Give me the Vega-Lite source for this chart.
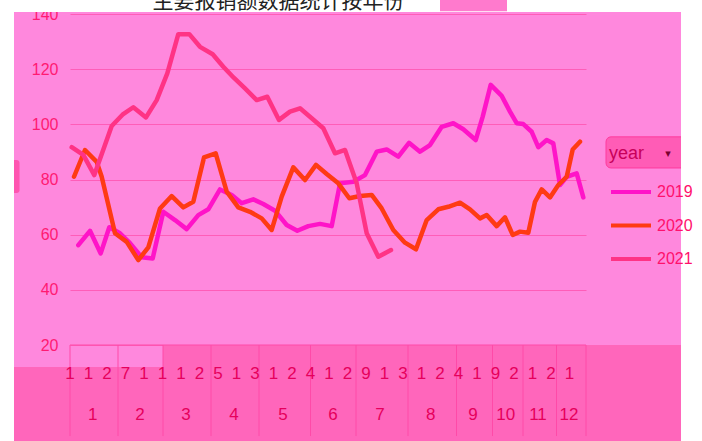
{
  "$schema": "https://vega.github.io/schema/vega-lite/v6.json",
  "width": 516,
  "height": 331,
  "autosize": "none",
  "padding": {"left": 70, "top": 14, "right": 116, "bottom": 96},
  "background": "#FF88DD",
  "config": {
    "view": {"stroke": null},
    "axisY": {"domain": false, "ticks": false, "tickSize": 0, "labelPadding": 12, "labelFont": "Liberation Sans", "labelFontSize": 16, "labelColor": "#FF1A72", "gridColor": "#FF5DB8", "gridWidth": 1, "grid": true, "title": null, "labelBound": false, "labelOverlap": false}
  },
  "datasets": {
    "series": [
      {"year":"2019","t":0.83,"v":56.2},{"year":"2019","t":2.0,"v":61.4},{"year":"2019","t":3.07,"v":53.2},{"year":"2019","t":3.93,"v":62.7},{"year":"2019","t":5.0,"v":60.5},{"year":"2019","t":6.0,"v":56.9},{"year":"2019","t":7.17,"v":51.8},{"year":"2019","t":8.27,"v":51.4},{"year":"2019","t":9.33,"v":68.3},{"year":"2019","t":10.5,"v":65.3},{"year":"2019","t":11.67,"v":62.0},{"year":"2019","t":12.83,"v":67.1},{"year":"2019","t":13.83,"v":69.2},{"year":"2019","t":15.0,"v":76.4},{"year":"2019","t":16.17,"v":74.4},{"year":"2019","t":17.17,"v":71.4},{"year":"2019","t":18.33,"v":72.8},{"year":"2019","t":19.33,"v":71.1},{"year":"2019","t":20.5,"v":68.7},{"year":"2019","t":21.67,"v":63.5},{"year":"2019","t":22.73,"v":61.4},{"year":"2019","t":23.83,"v":63.1},{"year":"2019","t":25.0,"v":63.9},{"year":"2019","t":26.17,"v":63.1},{"year":"2019","t":27.0,"v":78.6},{"year":"2019","t":28.33,"v":79.2},{"year":"2019","t":29.5,"v":81.6},{"year":"2019","t":30.67,"v":90.1},{"year":"2019","t":31.67,"v":90.9},{"year":"2019","t":32.83,"v":88.3},{"year":"2019","t":33.9,"v":93.3},{"year":"2019","t":35.0,"v":90.1},{"year":"2019","t":36.0,"v":92.5},{"year":"2019","t":37.17,"v":99.1},{"year":"2019","t":38.33,"v":100.4},{"year":"2019","t":39.33,"v":98.2},{"year":"2019","t":40.57,"v":94.3},{"year":"2019","t":41.27,"v":102.8},{"year":"2019","t":42.07,"v":114.3},{"year":"2019","t":43.17,"v":110.3},{"year":"2019","t":44.0,"v":104.6},{"year":"2019","t":44.67,"v":100.4},{"year":"2019","t":45.33,"v":100.1},{"year":"2019","t":46.17,"v":97.3},{"year":"2019","t":46.83,"v":91.7},{"year":"2019","t":47.67,"v":94.3},{"year":"2019","t":48.33,"v":93.1},{"year":"2019","t":49.0,"v":78.0},{"year":"2019","t":49.67,"v":81.0},{"year":"2019","t":50.67,"v":82.2},{"year":"2019","t":51.33,"v":73.5},
      {"year":"2020","t":0.4,"v":81.0},{"year":"2020","t":1.5,"v":90.7},{"year":"2020","t":2.67,"v":86.4},{"year":"2020","t":3.17,"v":81.0},{"year":"2020","t":4.5,"v":60.5},{"year":"2020","t":5.67,"v":57.4},{"year":"2020","t":6.83,"v":50.8},{"year":"2020","t":7.83,"v":55.4},{"year":"2020","t":9.0,"v":69.5},{"year":"2020","t":10.17,"v":74.0},{"year":"2020","t":11.33,"v":69.9},{"year":"2020","t":12.33,"v":71.9},{"year":"2020","t":13.4,"v":88.0},{"year":"2020","t":14.57,"v":89.5},{"year":"2020","t":15.67,"v":75.6},{"year":"2020","t":16.83,"v":69.9},{"year":"2020","t":18.0,"v":68.3},{"year":"2020","t":19.17,"v":65.9},{"year":"2020","t":20.17,"v":61.7},{"year":"2020","t":21.17,"v":73.8},{"year":"2020","t":22.33,"v":84.4},{"year":"2020","t":23.5,"v":79.8},{"year":"2020","t":24.6,"v":85.3},{"year":"2020","t":25.67,"v":82.0},{"year":"2020","t":26.83,"v":78.6},{"year":"2020","t":27.93,"v":73.2},{"year":"2020","t":29.0,"v":74.0},{"year":"2020","t":30.17,"v":74.4},{"year":"2020","t":31.17,"v":69.5},{"year":"2020","t":32.33,"v":61.7},{"year":"2020","t":33.5,"v":57.1},{"year":"2020","t":34.6,"v":54.7},{"year":"2020","t":35.67,"v":65.3},{"year":"2020","t":36.83,"v":69.2},{"year":"2020","t":37.83,"v":70.1},{"year":"2020","t":39.0,"v":71.6},{"year":"2020","t":40.0,"v":69.2},{"year":"2020","t":41.0,"v":65.9},{"year":"2020","t":41.67,"v":67.1},{"year":"2020","t":42.67,"v":63.1},{"year":"2020","t":43.5,"v":66.3},{"year":"2020","t":44.27,"v":59.9},{"year":"2020","t":45.0,"v":61.1},{"year":"2020","t":45.83,"v":60.7},{"year":"2020","t":46.5,"v":71.9},{"year":"2020","t":47.17,"v":76.4},{"year":"2020","t":48.0,"v":73.5},{"year":"2020","t":48.83,"v":78.0},{"year":"2020","t":49.67,"v":81.0},{"year":"2020","t":50.27,"v":90.9},{"year":"2020","t":51.0,"v":93.7},
      {"year":"2021","t":0.17,"v":91.7},{"year":"2021","t":1.33,"v":88.9},{"year":"2021","t":2.43,"v":81.6},{"year":"2021","t":4.17,"v":99.4},{"year":"2021","t":5.25,"v":103.5},{"year":"2021","t":6.33,"v":106.2},{"year":"2021","t":7.6,"v":102.5},{"year":"2021","t":8.67,"v":108.8},{"year":"2021","t":9.73,"v":118.5},{"year":"2021","t":10.83,"v":132.7},{"year":"2021","t":11.93,"v":132.7},{"year":"2021","t":13.0,"v":128.1},{"year":"2021","t":14.27,"v":125.4},{"year":"2021","t":15.33,"v":120.9},{"year":"2021","t":16.4,"v":116.8},{"year":"2021","t":17.5,"v":113.0},{"year":"2021","t":18.67,"v":108.8},{"year":"2021","t":19.73,"v":110.0},{"year":"2021","t":20.9,"v":101.6},{"year":"2021","t":22.0,"v":104.6},{"year":"2021","t":23.0,"v":105.8},{"year":"2021","t":24.17,"v":102.2},{"year":"2021","t":25.33,"v":98.6},{"year":"2021","t":26.5,"v":89.5},{"year":"2021","t":27.5,"v":90.7},{"year":"2021","t":28.67,"v":78.6},{"year":"2021","t":29.67,"v":60.5},{"year":"2021","t":30.83,"v":52.0},{"year":"2021","t":32.1,"v":54.4}
    ],
    "months": [
      {"month":"1","mid":2.27},{"month":"2","mid":7.0},{"month":"3","mid":11.6},{"month":"4","mid":16.4},{"month":"5","mid":21.3},{"month":"6","mid":26.3},{"month":"7","mid":31.0},{"month":"8","mid":36.07},{"month":"9","mid":40.3},{"month":"10","mid":43.57},{"month":"11","mid":46.8},{"month":"12","mid":49.9}
    ],
    "bounds": [
      {"t":0},{"t":4.8},{"t":9.3},{"t":14.1},{"t":18.9},{"t":24.05},{"t":28.6},{"t":33.8},{"t":38.65},{"t":42.25},{"t":45.3},{"t":48.65},{"t":51.6}
    ],
    "sub": [
      {"t":0,"label":"1"},{"t":1.85,"label":"1"},{"t":3.7,"label":"2"},{"t":5.55,"label":"7"},{"t":7.4,"label":"1"},{"t":9.25,"label":"1"},{"t":11.1,"label":"1"},{"t":12.95,"label":"2"},{"t":14.8,"label":"5"},{"t":16.65,"label":"1"},{"t":18.5,"label":"3"},{"t":20.35,"label":"1"},{"t":22.2,"label":"2"},{"t":24.05,"label":"4"},{"t":25.9,"label":"1"},{"t":27.75,"label":"2"},{"t":29.6,"label":"9"},{"t":31.45,"label":"1"},{"t":33.3,"label":"3"},{"t":35.15,"label":"1"},{"t":37.0,"label":"2"},{"t":38.85,"label":"4"},{"t":40.7,"label":"1"},{"t":42.55,"label":"9"},{"t":44.4,"label":"2"},{"t":46.25,"label":"1"},{"t":48.1,"label":"2"},{"t":49.95,"label":"1"}
    ]
  },
  "layer": [
    {
      "data": {"values": [{}]},
      "mark": {"type": "rect", "fill": "#FF66BB"},
      "encoding": {
        "x": {"datum": 9.3, "type": "quantitative", "scale": {"domain": [0, 51.6], "nice": false, "zero": false}, "axis": null},
        "x2": {"datum": 61.1},
        "y": {"datum": 20, "type": "quantitative", "scale": {"domain": [20, 140], "nice": false, "zero": false}},
        "y2": {"datum": -16}
      }
    },
    {
      "data": {"values": [{}]},
      "mark": {"type": "rect", "fill": "#FF66BB"},
      "encoding": {
        "x": {"datum": -5.6, "type": "quantitative", "axis": null},
        "x2": {"datum": 61.1},
        "y": {"datum": 12.0, "type": "quantitative"},
        "y2": {"datum": -16}
      }
    },
    {
      "data": {"values": [{}]},
      "mark": {"type": "rule", "stroke": "#FF4AA8", "strokeWidth": 1},
      "encoding": {
        "x": {"datum": 0, "type": "quantitative", "axis": null},
        "x2": {"datum": 51.6},
        "y": {"datum": 20, "type": "quantitative"}
      }
    },
    {
      "data": {"name": "bounds"},
      "mark": {"type": "rule", "stroke": "#FF4AA8", "strokeWidth": 1},
      "encoding": {
        "x": {"field": "t", "type": "quantitative", "axis": null},
        "y": {"datum": 20, "type": "quantitative"},
        "y2": {"datum": -13}
      }
    },
    {
      "data": {"name": "sub"},
      "mark": {"type": "text", "font": "Liberation Sans", "fontSize": 17, "fill": "#E6005C", "align": "center", "baseline": "middle"},
      "encoding": {
        "x": {"field": "t", "type": "quantitative", "axis": null},
        "y": {"datum": 9.5, "type": "quantitative"},
        "text": {"field": "label"}
      }
    },
    {
      "data": {"name": "months"},
      "mark": {"type": "text", "font": "Liberation Sans", "fontSize": 17, "fill": "#E6005C", "align": "center", "baseline": "middle"},
      "encoding": {
        "x": {"field": "mid", "type": "quantitative", "axis": null},
        "y": {"datum": -5.4, "type": "quantitative"},
        "text": {"field": "month"}
      }
    },
    {
      "data": {"values": [{}]},
      "mark": {"type": "rect", "fill": "#FF5CB6", "stroke": "#FF3A9E", "strokeWidth": 1, "cornerRadius": 5},
      "encoding": {
        "x": {"datum": 53.6, "type": "quantitative", "axis": null},
        "x2": {"datum": 62.5},
        "y": {"datum": 95.46, "type": "quantitative"},
        "y2": {"datum": 84.17}
      }
    },
    {
      "data": {"values": [{}]},
      "mark": {"type": "text", "text": "▾", "font": "DejaVu Sans", "fontSize": 11, "fill": "#7A0030", "align": "center", "baseline": "middle"},
      "encoding": {
        "x": {"datum": 59.8, "type": "quantitative", "axis": null},
        "y": {"datum": 89.3, "type": "quantitative"}
      }
    },
    {
      "data": {"values": [{}]},
      "mark": {"type": "rect", "fill": "#FF55B0", "cornerRadiusTopRight": 5, "cornerRadiusBottomRight": 5},
      "encoding": {
        "x": {"datum": -5.6, "type": "quantitative", "axis": null},
        "x2": {"datum": -5.05},
        "y": {"datum": 87.07, "type": "quantitative"},
        "y2": {"datum": 75.1}
      }
    },
    {
      "data": {"values": [{}]},
      "mark": {"type": "rect", "fill": "white"},
      "encoding": {
        "x": {"datum": -7.2, "type": "quantitative", "axis": null},
        "x2": {"datum": 63.4},
        "y": {"datum": 145.8, "type": "quantitative"},
        "y2": {"datum": 140.73}
      }
    },
    {
      "data": {"values": [{}]},
      "mark": {"type": "rect", "fill": "white"},
      "encoding": {
        "x": {"datum": -7.2, "type": "quantitative", "axis": null},
        "x2": {"datum": -5.6},
        "y": {"datum": 145.8, "type": "quantitative"},
        "y2": {"datum": -16}
      }
    },
    {
      "data": {"values": [{}]},
      "mark": {"type": "rect", "fill": "white"},
      "encoding": {
        "x": {"datum": 61.1, "type": "quantitative", "axis": null},
        "x2": {"datum": 63.4},
        "y": {"datum": 145.8, "type": "quantitative"},
        "y2": {"datum": -16}
      }
    },
    {
      "data": {"values": [{}]},
      "mark": {"type": "rect", "fill": "#FF7ACD"},
      "encoding": {
        "x": {"datum": 37.0, "type": "quantitative", "axis": null},
        "x2": {"datum": 43.7},
        "y": {"datum": 145.8, "type": "quantitative"},
        "y2": {"datum": 141.0}
      }
    },
    {
      "data": {"values": [{}]},
      "mark": {"type": "text", "text": "主要报销额数据统计按年份", "font": "Noto Sans CJK SC", "fontSize": 21, "fill": "#222222", "align": "center", "baseline": "alphabetic"},
      "encoding": {
        "x": {"datum": 20.85, "type": "quantitative", "axis": null},
        "y": {"datum": 142.0, "type": "quantitative"}
      }
    },
    {
      "data": {"name": "series"},
      "mark": {"type": "line", "strokeWidth": 4.5, "strokeJoin": "round", "strokeCap": "round"},
      "encoding": {
        "x": {"field": "t", "type": "quantitative", "axis": null},
        "y": {"field": "v", "type": "quantitative", "axis": {"values": [20, 40, 60, 80, 100, 120, 140]}},
        "color": {
          "field": "year", "type": "nominal",
          "scale": {"domain": ["2019", "2020", "2021"], "range": ["#FF14C8", "#FF3A14", "#FF3385"]},
          "legend": {
            "orient": "none", "legendX": 539, "legendY": 131, "padding": 0,
            "title": "year", "titleFont": "Liberation Sans", "titleFontSize": 18, "titleFontWeight": "normal", "titleColor": "#C8005A", "titleBaseline": "top", "titlePadding": 7,
            "symbolType": "stroke", "symbolStrokeWidth": 4, "symbolSize": 1600,
            "labelFont": "Liberation Sans", "labelFontSize": 16, "labelColor": "#FF106C", "labelOffset": 4,
            "rowPadding": 3.5
          }
        }
      }
    }
  ]
}
